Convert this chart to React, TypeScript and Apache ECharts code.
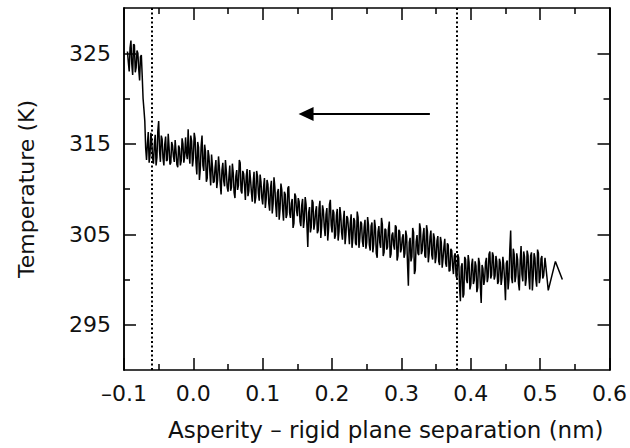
import React, { useEffect, useRef } from "react";
import * as echarts from "echarts";

const X_START = -0.095;
const X_STEP = 0.0025;
// samples at X_START + i * X_STEP
const tempValues: number[] = [
  325.2, 323.0, 326.4, 322.6, 325.9, 323.4, 325.0, 322.0, 324.8, 320.0,
  317.5, 313.2, 316.3, 313.8, 315.2, 312.8, 316.0, 313.5, 317.5, 313.0,
  315.5, 312.6, 315.8, 313.2, 314.6, 312.9, 314.8, 313.0, 314.2, 312.4,
  314.5, 313.1, 315.0, 313.6, 314.0, 316.6, 312.8, 315.3, 313.4, 315.6,
  311.6, 314.6, 312.2, 315.9, 312.0, 314.1, 311.2, 313.6, 310.4, 312.5,
  310.8, 313.2, 311.0, 312.4, 309.4, 312.9, 310.3, 312.0, 309.7, 312.6,
  310.2, 311.8, 309.0, 312.1, 310.4, 312.9, 309.5, 311.7, 308.8, 312.2,
  309.8, 311.0, 308.6, 311.9, 309.1, 311.4, 308.7, 310.8, 308.3, 311.2,
  308.9, 310.5, 307.6, 310.9, 308.4, 310.2, 306.9, 310.0, 307.8, 309.9,
  306.5, 309.4, 307.2, 310.3, 306.8, 308.9, 306.2, 309.2, 307.0, 308.6,
  305.9, 308.9, 306.6, 308.3, 303.6, 308.0, 305.8, 308.5, 306.2, 308.1,
  305.4, 308.7, 305.9, 307.6, 304.8, 307.9, 305.6, 308.8, 305.2, 307.4,
  304.9, 307.8, 305.3, 307.1, 304.4, 307.6, 305.0, 306.8, 303.9, 307.2,
  304.6, 306.5, 303.8, 306.9, 304.5, 306.2, 303.6, 306.6, 304.1, 306.0,
  303.2, 306.3, 303.9, 305.7, 302.4, 305.9, 303.5, 306.1, 303.0, 305.5,
  303.6, 306.4, 302.8, 305.2, 303.3, 305.8, 302.6, 305.3, 303.4, 305.0,
  302.9, 304.8, 299.3, 304.6, 302.5, 305.2, 301.0, 304.9, 302.7, 305.6,
  303.2, 305.7, 302.4, 305.3, 302.9, 305.4, 302.2, 304.6, 302.5, 304.8,
  301.6, 304.1, 302.3, 304.5, 301.4, 303.8, 301.0, 303.2, 300.6, 302.9,
  300.1, 302.4, 297.6, 301.8, 298.4, 302.2, 299.6, 301.9, 299.4, 302.3,
  299.9, 301.5, 299.1, 301.8, 297.4, 301.2, 300.0, 302.4, 300.3, 303.1,
  300.5, 302.6, 300.4, 302.0, 299.8, 301.9, 300.2, 301.6, 297.7, 302.1,
  300.0, 305.4, 299.6, 302.8, 300.4, 302.2, 298.8, 303.7, 299.8, 302.5,
  300.1, 302.7, 298.9, 303.0, 300.3, 302.4, 299.2, 302.9, 300.2, 302.6,
  300.4,
];
// samples at X_START + X_STEP / 2 + i * X_STEP
const tempMidValues: number[] = [
  324.0, 325.6, 323.8, 326.0, 322.9, 325.3, 323.2, 324.6, 322.5, 318.8,
  314.5, 315.0, 312.9, 316.2, 313.4, 314.9, 312.6, 316.4, 314.2, 315.9,
  313.4, 314.9, 313.1, 316.1, 312.7, 315.2, 313.6, 315.4, 312.7, 314.8,
  312.6, 315.6, 312.9, 315.7, 313.3, 313.9, 315.9, 312.5, 316.2, 312.9,
  315.2, 311.0, 314.8, 312.6, 314.9, 310.8, 314.3, 311.9, 313.8, 310.7,
  312.3, 310.1, 313.6, 310.6, 312.1, 310.9, 313.2, 310.2, 311.3, 309.8,
  312.8, 309.6, 311.4, 309.9, 313.2, 309.8, 312.0, 310.4, 311.4, 309.2,
  312.1, 309.6, 310.7, 308.4, 312.0, 309.5, 311.6, 309.0, 310.2, 307.9,
  311.0, 308.4, 310.1, 307.3, 311.3, 308.2, 309.6, 306.6, 310.6, 307.7,
  309.7, 306.8, 310.1, 307.4, 308.4, 305.7, 309.5, 307.6, 309.0, 306.4,
  308.2, 305.7, 309.1, 306.0, 307.4, 305.2, 308.8, 305.5, 307.5, 305.1,
  307.9, 304.6, 308.2, 305.8, 307.2, 304.3, 308.3, 306.0, 307.7, 304.5,
  307.1, 304.3, 308.0, 305.2, 306.5, 303.9, 307.0, 305.4, 306.2, 303.5,
  306.8, 304.0, 307.5, 303.5, 306.4, 304.2, 305.8, 303.4, 306.9, 303.8,
  305.9, 303.0, 306.6, 302.9, 305.3, 304.1, 306.8, 302.6, 305.6, 303.3,
  305.6, 302.4, 304.9, 303.8, 306.0, 302.1, 305.5, 303.0, 304.6, 302.4,
  305.4, 301.8, 304.1, 302.0, 305.7, 300.6, 304.2, 302.9, 306.2, 302.8,
  304.9, 302.6, 306.0, 301.9, 304.7, 302.7, 305.1, 301.8, 304.3, 302.0,
  304.7, 301.3, 303.6, 301.8, 304.0, 300.9, 303.4, 301.5, 302.6, 300.4,
  302.8, 299.3, 301.4, 298.0, 302.5, 300.0, 302.7, 298.9, 301.6, 299.5,
  302.0, 298.6, 302.4, 299.3, 301.6, 299.4, 301.9, 299.7, 302.8, 300.1,
  303.0, 300.0, 302.6, 299.5, 302.3, 299.4, 302.5, 299.9, 301.8, 298.9,
  303.3, 300.2, 303.4, 299.7, 302.9, 299.6, 302.1, 300.6, 303.1, 299.3,
  303.2, 300.2, 302.6, 298.8, 302.9, 300.0, 303.3, 299.6, 302.3, 300.1,
];
const tailX: number[] = [0.507, 0.5117, 0.522, 0.532];
const tailY: number[] = [302.4, 298.8, 302.0, 300.0];

const dottedLinesX: number[] = [-0.06, 0.3825];
const arrowFrom: [number, number] = [0.341, 318.3];
const arrowTo: [number, number] = [0.1625, 318.3];

const yMajor: number[] = [295, 305, 315, 325];
const yMinor: number[] = [300, 310, 320];

const FONT = "DejaVu Sans";

export default function App() {
  const ref = useRef<HTMLDivElement>(null);
  useEffect(() => {
    document.body.style.margin = "0";
    if (!ref.current) return;
    const chart = echarts.init(ref.current, null, { renderer: "svg" });
    const data: [number, number][] = [];
    tempValues.forEach((v, i) => {
      data.push([+(X_START + i * X_STEP).toFixed(5), v]);
      if (i < tempMidValues.length) {
        data.push([+(X_START + X_STEP / 2 + i * X_STEP).toFixed(5), tempMidValues[i]]);
      }
    });
    tailX.forEach((x, i) => data.push([x, tailY[i]]));

    const axisLine = {
      show: true,
      onZero: false,
      lineStyle: { color: "#000", width: 1.5 },
    };
    const tickStyle = { color: "#000", width: 1.5 };
    const fmtX = (v: number) => {
      const s = Math.abs(v).toFixed(1);
      return v < -1e-9 ? "\u2013" + s : s;
    };
    const yBase = {
      type: "value" as const,
      min: 290,
      max: 330,
      interval: 5,
      axisLine,
      splitLine: { show: false },
    };
    const xBase = {
      type: "value" as const,
      min: -0.1,
      max: 0.6,
      interval: 0.1,
      axisLine,
      splitLine: { show: false },
      axisTick: { show: true, inside: true, length: 12, lineStyle: tickStyle },
      minorTick: { show: true, splitNumber: 2, length: 6, lineStyle: tickStyle },
    };

    chart.setOption({
      animation: false,
      backgroundColor: "#fff",
      grid: { left: 124, right: 19, top: 8, bottom: 78, containLabel: false },
      xAxis: [
        {
          ...xBase,
          position: "bottom",
          name: "Asperity \u2013 rigid plane separation (nm)",
          nameLocation: "middle",
          nameGap: 48,
          nameTextStyle: {
            fontFamily: FONT,
            fontSize: 23,
            color: "#111",
            padding: [0, 0, 0, 38],
          },
          axisLabel: {
            show: true,
            formatter: fmtX,
            margin: 12,
            fontFamily: FONT,
            fontSize: 22,
            color: "#111",
          },
        },
        {
          ...xBase,
          position: "top",
          axisLabel: { show: false },
        },
      ],
      yAxis: [
        {
          ...yBase,
          position: "left",
          name: "Temperature (K)",
          nameLocation: "middle",
          nameGap: 87,
          nameTextStyle: { fontFamily: FONT, fontSize: 22, color: "#111" },
          axisTick: {
            show: true,
            inside: true,
            length: 12,
            customValues: yMajor,
            lineStyle: tickStyle,
          },
          axisLabel: {
            show: true,
            customValues: yMajor,
            margin: 13,
            fontFamily: FONT,
            fontSize: 22,
            color: "#111",
          },
        },
        {
          ...yBase,
          position: "left",
          axisTick: {
            show: true,
            inside: true,
            length: 6,
            customValues: yMinor,
            lineStyle: tickStyle,
          },
          axisLabel: { show: false },
        },
        {
          ...yBase,
          position: "right",
          axisTick: {
            show: true,
            inside: true,
            length: 12,
            customValues: yMajor,
            lineStyle: tickStyle,
          },
          axisLabel: { show: false },
        },
        {
          ...yBase,
          position: "right",
          axisTick: {
            show: true,
            inside: true,
            length: 6,
            customValues: yMinor,
            lineStyle: tickStyle,
          },
          axisLabel: { show: false },
        },
      ],
      series: [
        {
          type: "line",
          data,
          xAxisIndex: 0,
          yAxisIndex: 0,
          showSymbol: false,
          symbol: "none",
          lineStyle: { color: "#000", width: 1.5 },
          markLine: {
            silent: true,
            symbol: "none",
            label: { show: false },
            lineStyle: { color: "#000", type: [2, 2.5], width: 2 },
            data: dottedLinesX.map((x) => ({ xAxis: x })),
          },
        },
        {
          type: "line",
          data: [],
          markLine: {
            silent: true,
            symbol: ["none", "triangle"],
            symbolSize: [14, 15],
            label: { show: false },
            lineStyle: { color: "#000", type: "solid", width: 2 },
            data: [[{ coord: arrowFrom }, { coord: arrowTo }]],
          },
        },
      ],
    });
    return () => chart.dispose();
  }, []);
  return <div ref={ref} style={{ width: 630, height: 448 }} />;
}
